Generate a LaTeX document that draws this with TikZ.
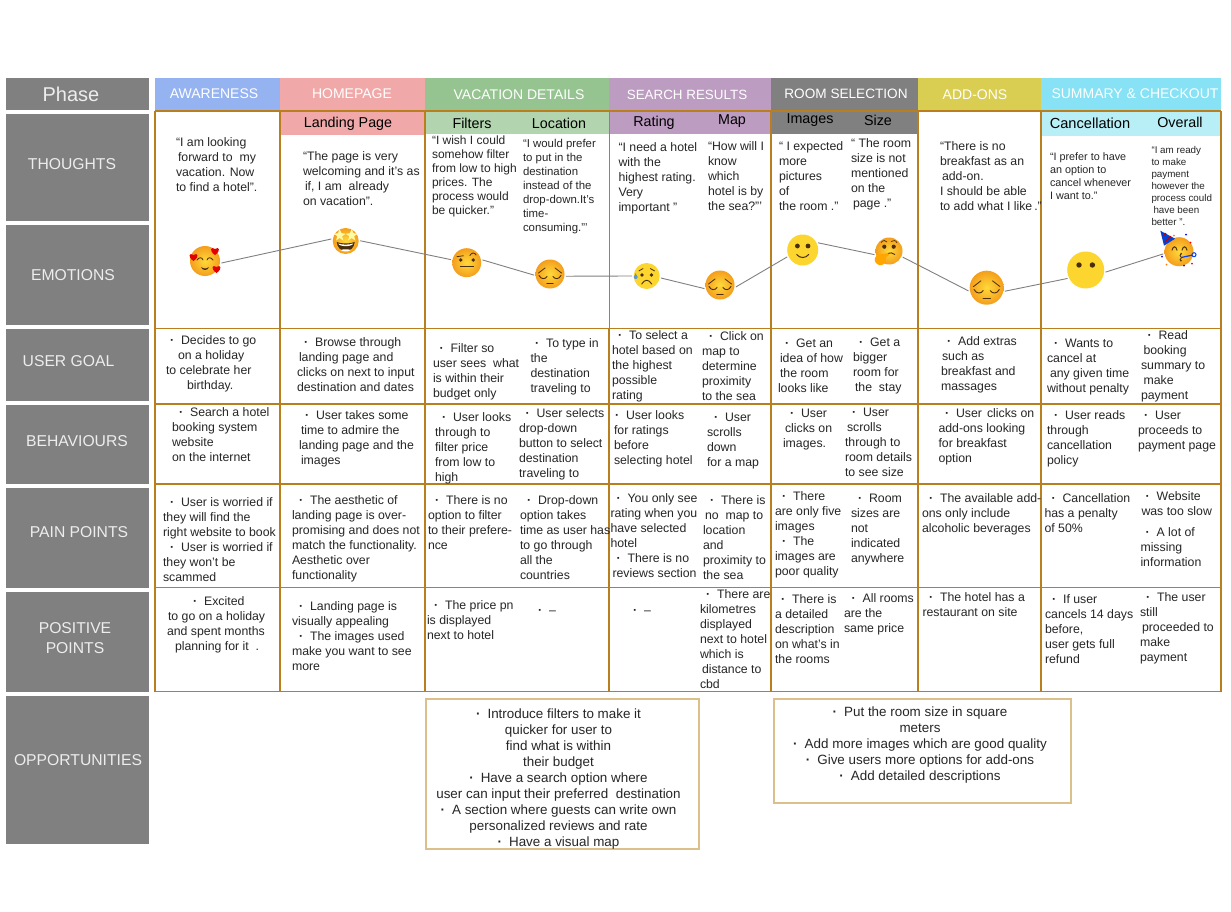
\documentclass[tikz,border=0pt]{standalone}
\usepackage{fontspec}
\setmainfont{Liberation Sans}
\definecolor{gold}{HTML}{B97F1F}
\definecolor{oppb}{HTML}{DCC08C}
\definecolor{lab}{HTML}{808080}
\definecolor{ink}{HTML}{262626}
\definecolor{hA}{HTML}{95B3F0}
\definecolor{hB}{HTML}{F0A8A8}
\definecolor{hC}{HTML}{96C490}
\definecolor{hCs}{HTML}{B2D4AE}
\definecolor{hD}{HTML}{BC9CC0}
\definecolor{hF}{HTML}{DACE52}
\definecolor{hG}{HTML}{86E2F4}
\definecolor{hGs}{HTML}{B8EEF6}
\definecolor{eY}{HTML}{FFD93A}
\definecolor{eO}{HTML}{F49E1C}
\definecolor{eF}{HTML}{FCD52E}
\definecolor{eB}{HTML}{4A2E0C}
\newcommand{\rt}{\rule{0pt}{10.5pt}}
\newcommand{\ii}[1]{\hspace*{#1pt}}
\newcommand{\bu}[1]{\hspace*{\dimexpr#1pt-2pt\relax}\textbf{·}\hspace{7pt}}
\newcommand{\ob}{\textbf{·}\hspace{7pt}}
\newcommand{\tx}[4]{\node[cell] (#1) at (#2,#3-6) {\rt #4};}
\newcommand{\hrt}[3]{\fill[red!90!black,shift={(#1,#2)},scale=#3] (0,1.6) .. controls (-2.6,-0.2) and (-1.6,-2) .. (0,-0.8) .. controls (1.6,-2) and (2.6,-0.2) .. (0,1.6) -- cycle;}
\newcommand{\pensive}{%
\draw[eB,line width=.9pt,line cap=round] (-11,1.5) .. controls (-9,5.5) and (-5,5.5) .. (-3,2.5);
\draw[eB,line width=.9pt,line cap=round] (11,1.5) .. controls (9,5.5) and (5,5.5) .. (3,2.5);
\draw[eB,line width=.8pt,line cap=round] (-11.5,-1) -- (-5,-6);
\draw[eB,line width=.8pt,line cap=round] (11.5,-1) -- (5,-6);
\draw[eB,line width=.9pt,line cap=round] (-3.2,9) -- (3.2,9);}
\tikzset{
 cell/.style={anchor=north west,inner sep=0pt,outer sep=0pt,align=left,text=ink,font=\fontsize{12.3}{15}\selectfont},
 hd/.style={text=white,inner sep=0pt,font=\fontsize{14}{16}\selectfont},
 sub/.style={text=black,inner sep=0pt,font=\fontsize{14.3}{16}\selectfont},
 side/.style={text=white!93!black,inner sep=0pt,align=center,font=\fontsize{15.7}{20}\selectfont},
 opp/.style={inner sep=0pt,align=center,text=ink,font=\fontsize{13.4}{16}\selectfont},
 gridA/.style={draw=gold,line width=1.7pt},
 gridB/.style={draw=gold,line width=1.1pt},
 conn/.style={draw=lab,line width=.9pt},
 emo/.style={circle,inner sep=0pt,outer sep=1.5pt,inner color=eY,outer color=eO,minimum size=#1},
 flat/.style={circle,inner sep=0pt,outer sep=1.5pt,fill=eF,minimum size=#1},
}
\begin{document}
\begin{tikzpicture}[x=1pt,y=-1pt]
\useasboundingbox (0,0) rectangle (1231,912);
\fill[white] (0,0) rectangle (1231,912);
% left labels
\foreach \a/\b in {78/110,114/221,225/325,329/401,405/484,488/588,592/692,696/844}
  \fill[lab] (6,\a) rectangle (149,\b);
\node[side,font=\fontsize{20}{24}\selectfont] (lphase) at (71,94) {Phase};
\node[side] (lth) at (72,164) {THOUGHTS};
\node[side] (lem) at (73,275) {EMOTIONS};
\node[side] (lug) at (68.5,361) {USER GOAL};
\node[side] (lbe) at (77,441) {BEHAVIOURS};
\node[side] (lpa) at (79,532) {PAIN POINTS};
\node[side] (lpo) at (75,638) {POSITIVE\\POINTS};
\node[side] (lop) at (78,760) {OPPORTUNITIES};
% header bands
\fill[hA] (155,78) rectangle (280,111);
\fill[hB] (280,78) rectangle (425,111);
\fill[hC] (425,78) rectangle (609,111);
\fill[hD] (609,78) rectangle (771,111);
\fill[lab] (771,78) rectangle (918,111);
\fill[hF] (918,78) rectangle (1041,111);
\fill[hG] (1041,78) rectangle (1221,111);
\fill[hB] (280,111) rectangle (425,135);
\fill[hCs] (425,111) rectangle (609,134);
\fill[hD] (609,111) rectangle (771,134);
\fill[lab] (771,111) rectangle (918,134);
\fill[hGs] (1041,111) rectangle (1221,136);
\node[hd] (h1) at (214,94) {AWARENESS};
\node[hd] (h2) at (352,94) {HOMEPAGE};
\node[hd] (h3) at (519,95) {VACATION DETAILS};
\node[hd,font=\fontsize{13.4}{16}\selectfont] (h4) at (687,95) {SEARCH RESULTS};
\node[hd,font=\fontsize{13.6}{16}\selectfont] (h5) at (846,94) {ROOM SELECTION};
\node[hd] (h6) at (975,95) {ADD-ONS};
\node[hd] (h7) at (1135,94) {SUMMARY \& CHECKOUT};
\node[sub] (s1) at (348,124) {Landing Page};
\node[sub] (s2) at (472,123) {Filters};
\node[sub] (s3) at (559,123) {Location};
\node[sub] (s4) at (654,123) {Rating};
\node[sub] (s5) at (732,121) {Map};
\node[sub] (s6) at (810,120) {Images};
\node[sub] (s7) at (878,120) {Size};
\node[sub,font=\fontsize{14.6}{16}\selectfont] (s8) at (1090,123) {Cancellation};
\node[sub] (s9) at (1180,122) {Overall};
% grid
\draw[gridB] (155,111) -- (1221,111);
\draw[gridB] (155,111) -- (155,691.5);
\draw[gridB] (1221,111) -- (1221,691.5);
\draw[gridB] (155,691.5) -- (1221,691.5);
\draw[gridA] (155,328.5) -- (1221,328.5);
\foreach \y in {404,484,587.5} \draw[gridB] (155,\y) -- (1221,\y);
\foreach \x in {280,425,771,918,1041} \draw[gridA] (\x,111) -- (\x,691.5);
\draw[draw=gold,line width=.8pt] (609,111) -- (609,328.5);
\draw[gridA] (609,328.5) -- (609,691.5);
% thoughts
\tx{ta}{176}{142}{“I am looking\\\ii{2}forward to\ \ my\\vacation. Now\\to find a hotel”.}
\tx{tb}{303}{156}{“The page is very\\welcoming and it’s as\\\ii{2}if, I am\ \ already\\on vacation”.}
\node[cell,font=\fontsize{12}{14}\selectfont] (tc) at (432,134) {\rt “I wish I could\\somehow filter\\from low to high\\prices. The\\process would\\be quicker.”};
\node[cell,font=\fontsize{11.4}{14}\selectfont] (td) at (523,137) {\rt “I would prefer\\to put in the\\destination\\instead of the\\drop-down.It’s\\time-\\consuming.”’};
\tx{te}{618.5}{147}{“I need a hotel\\with the\\highest rating.\\Very\\important ”}
\tx{tf}{708}{146}{“How will I\\know\\which\\hotel is by\\the sea?”’}
\tx{tg}{779}{146}{“ I expected\\more\\pictures\\of\\the room .”}
\tx{th}{851}{143}{“ The room\\size is not\\mentioned\\on the\\\ii{2}page .”}
\tx{ti}{940}{146}{“There is no\\breakfast as an\\\ii{2}add-on.\\I should be able\\to add what I like\hspace{2pt}.”}
\node[cell,font=\fontsize{10.8}{13}\selectfont] (tj) at (1050,150) {\rt “I prefer to have\\an option to\\cancel whenever\\I want to.”};
\node[cell,font=\fontsize{9.8}{12}\selectfont] (tk) at (1151.5,143) {\rt “I am ready\\to make\\payment\\however the\\process could\\\ii{2}have been\\better ”.};
% user goal
\tx{ua}{166}{340}{\bu{6}Decides to go\\\ii{12}on a holiday\\to celebrate her\\\ii{21}birthday.}
\tx{ub}{297}{342}{\bu{9}Browse through\\\ii{2}landing page and\\clicks on next to input\\destination and dates}
\tx{uc}{433}{348}{\bu{8.5}Filter so\\user sees\ \ what\\is within their\\budget only}
\tx{ud}{530.5}{343}{\bu{6.5}To type in\\the\\destination\\traveling to}
\tx{ue}{612}{335}{\bu{8}To select a\\hotel based on\\the highest\\possible\\rating}
\tx{uf}{702}{336}{\bu{9}Click on\\map to\\determine\\proximity\\to the sea}
\tx{ug}{778}{343}{\bu{9}Get an\\\ii{2}idea of how\\\ii{2}the room\\looks like}
\tx{uh}{853}{342}{\bu{8}Get a\\bigger\\room for\\\ii{2}the\ \ stay}
\tx{ui}{941}{341}{\bu{8}Add extras\\\ii{1}such as\\breakfast and\\massages}
\tx{uj}{1047}{343}{\bu{9}Wants to\\cancel at\\\ii{3}any given time\\without penalty}
\tx{uk}{1141}{335}{\bu{8.5}Read\\\ii{2.5}booking\\summary to\\\ii{2.5}make\\payment}
% behaviours
\tx{ba}{172}{412}{\bu{9}Search a hotel\\booking system\\website\\on the internet}
\tx{bb}{299}{415}{\bu{8}User takes some\\\ii{2}time to admire the\\landing page and the\\\ii{2}images}
\tx{bc}{435}{417}{\bu{9}User looks\\through to\\filter price\\from low to\\high}
\tx{bd}{519}{413}{\bu{8.5}User selects\\drop-down\\button to select\\destination\\traveling to}
\tx{be}{614}{415}{\bu{3}User looks\\for ratings\\before\\selecting hotel}
\tx{bf}{707}{417}{\bu{9}User\\scrolls\\down\\for a map}
\tx{bg}{783}{413}{\bu{9}User\\\ii{2}clicks on\\images.}
\tx{bh}{845}{412}{\bu{9}User\\\ii{2}scrolls\\through to\\room details\\to see size}
\tx{bi}{938.5}{413}{\bu{8.5}User\hspace{5pt}clicks on\\add-ons looking\\for breakfast\\option}
\tx{bj}{1047}{415}{\bu{9}User reads\\through\\cancellation\\policy}
\tx{bk}{1138}{415}{\bu{8}User\\proceeds to\\payment page}
% pain
\tx{pa}{163}{502}{\bu{9}User is worried if\\they will find the\\right website to book\\\bu{9}User is worried if\\they won’t be\\scammed}
\tx{pb}{292}{500}{\bu{9}The aesthetic of\\landing page is over-\\promising and does not\\match the functionality.\\Aesthetic over\\functionality}
\tx{pc}{428}{500}{\bu{9}There is no\\option to filter\\to their prefere-\\nce}
\tx{pd}{520}{500}{\bu{9}Drop-down\\option takes\\time as user has\\to go through\\all the\\countries}
\tx{pe}{610.5}{498}{\bu{8}You only see\\rating when you\\have selected\\hotel\\\bu{8}There is no\\\ii{2}reviews section}
\tx{pf}{703}{500}{\bu{9}There is\\\ii{2}no\ \ map to\\location\\and\\proximity to\\the sea}
\tx{pg}{775}{496}{\bu{9}There\\are only five\\images\\\bu{9}The\\images are\\poor quality}
\tx{ph}{851}{498}{\bu{9}Room\\sizes are\\not\\indicated\\anywhere}
\tx{pi}{922}{498}{\bu{9}The available add-\\ons only include\\alcoholic beverages}
\tx{pj}{1044.5}{498}{\bu{9}Cancellation\\has a penalty\\of 50\%}
\node[cell] (pk) at (1140.5,490) {\rt\bu{7}Website\\\ii{1}was too slow\\[6pt]\bu{7}A lot of\\missing\\information};
% positive
\tx{qa}{167}{601}{\bu{28}Excited\\\ii{1}to go on a holiday\\and spent months\\\ii{8}planning for it\ \ .}
\tx{qb}{292}{606}{\bu{9}Landing page is\\visually appealing\\\bu{9}The images used\\make you want to see\\more}
\tx{qc}{427}{605}{\bu{9}The price pn\\is displayed\\next to hotel}
\tx{qd}{538}{610}{\bu{2}–}
\tx{qe}{634}{610}{\bu{1}–}
\tx{qf}{700}{594}{\bu{8}There are\\kilometres\\displayed\\next to hotel\\which is\\\ii{2}distance to\\cbd}
\tx{qg}{775}{599}{\bu{8}There is\\a detailed\\description\\on what’s in\\the rooms}
\tx{qh}{844}{598}{\bu{9.5}All rooms\\are the\\same price}
\tx{qi}{922.5}{597}{\bu{8.5}The hotel has a\\restaurant on site}
\tx{qj}{1045}{599}{\bu{9}If user\\cancels 14 days\\before,\\user gets full\\refund}
\tx{qk}{1140}{597}{\bu{8}The user\\still\\\ii{2}proceeded to\\make\\payment}
% opportunities
\draw[oppb,line width=2pt] (426,699) rectangle (699,849);
\draw[oppb,line width=2pt] (774,699) rectangle (1071,803);
\node[opp,anchor=north] (oa) at (558.5,708) {\rt \ob Introduce filters to make it\\quicker for user to\\find what is within\\their budget\\\ob Have a search option where\\user can input their preferred\ \ destination\\\ob A section where guests can write own\\personalized reviews and rate\\\ob Have a visual map};
\node[opp,anchor=north] (ob) at (920,706) {\rt \ob Put the room size in square\\meters\\\ob Add more images which are good quality\\\ob Give users more options for add-ons\\\ob Add detailed descriptions};
% emotions
\node[emo=30pt] (e1) at (205,261) {};
\node[emo=26pt] (e2) at (345.7,241) {};
\node[emo=29pt] (e3) at (466.7,262.7) {};
\node[emo=29pt] (e4) at (550,274) {};
\node[flat=26pt] (e5) at (646.7,276) {};
\node[emo=29pt] (e6) at (720,285) {};
\node[flat=31pt] (e7) at (802.7,250) {};
\node[emo=27pt] (e8) at (889,251) {};
\node[emo=34pt] (e9) at (986.7,287.7) {};
\node[flat=37pt] (e10) at (1085.7,270) {};
\node[emo=29pt] (e11) at (1179,251.7) {};
\draw[conn] (e1.353) -- (e2.172);
\draw[conn] (e2.1) -- (e3.169);
\draw[conn] (e3.10) -- (e4.184);
\draw[conn] (e4.352) -- (e5.180);
\draw[conn] (e5.352) -- (e6.193);
\draw[conn] (e6.353) -- (e7.204);
\draw[conn] (e7.25) -- (e8.194);
\draw[conn] (e8.336) -- (e9.190);
\draw[conn] (e9.349) -- (e10.205);
\draw[conn] (e10.354) -- (e11.188);
% e1 hearts
\begin{scope}[shift={(e1.center)}]
\draw[eB,line width=.8pt,line cap=round] (-8,-1) .. controls (-6,-4) and (-3,-4) .. (-2,-1);
\draw[eB,line width=.8pt,line cap=round] (8,-1) .. controls (6,-4) and (3,-4) .. (2,-1);
\fill[eB] (-4,6) .. controls (-1,8) and (1,8) .. (4,6) .. controls (3,10) and (-3,10) .. (-4,6) -- cycle;
\hrt{-11.5}{-4}{2.5}\hrt{10}{-10}{2.5}\hrt{11.5}{8}{2.5}
\end{scope}
% e2 star struck
\begin{scope}[shift={(e2.center)}]
\foreach \s in {-6,6}{\fill[yellow!35!white,shift={(\s,-6)},scale=1.2] (0,-5) -- (1.5,-1.5) -- (5,-1) -- (2,1) -- (3,4.5) -- (0,2.5) -- (-3,4.5) -- (-2,1) -- (-5,-1) -- (-1.5,-1.5) -- cycle;}
\fill[eB] (-9,1) .. controls (-5,3) and (5,3) .. (9,1) .. controls (8,13) and (-8,13) .. (-9,1) -- cycle;
\fill[white] (-7.5,2.5) .. controls (-4,4) and (4,4) .. (7.5,2.5) .. controls (6.5,6) and (-6.5,6) .. (-7.5,2.5) -- cycle;
\fill[white] (-5,9) .. controls (-2,8) and (2,8) .. (5,9) .. controls (3,11) and (-3,11) .. (-5,9) -- cycle;
\end{scope}
% e3 raised eyebrow
\begin{scope}[shift={(e3.center)}]
\fill[eB] (-6,-2.7) circle (1.9);\fill[eB] (6.5,-2.7) circle (1.9);
\draw[eB,line width=.8pt] (-10,-6) -- (-3,-7);
\draw[eB,line width=.8pt] (3,-7) .. controls (5,-10.5) and (8,-10.5) .. (9.5,-7.5);
\draw[eB,line width=1pt] (-7,4) -- (7,4);
\end{scope}
% pensive faces
\begin{scope}[shift={(e4.center)}]\pensive\end{scope}
\begin{scope}[shift={(e6.center)}]\pensive\end{scope}
\begin{scope}[shift={(e9.center)},scale=1.15]\pensive\end{scope}
% e5 sad with tear
\begin{scope}[shift={(e5.center)}]
\fill[eB] (-4.7,-1) circle (1.9);\fill[eB] (4.7,-1) circle (1.9);
\draw[eB,line width=.8pt] (-8,-5) -- (-3.5,-7.5);
\draw[eB,line width=.8pt] (8,-5) -- (3.5,-7.5);
\draw[eB,line width=.9pt,line cap=round] (-5,8) .. controls (-2,3) and (2,3) .. (5,8);
\fill[cyan!60!blue!70!white] (-11,-3) .. controls (-14,3) and (-8,3) .. (-11,-3) -- cycle;
\fill[cyan!60!blue!70!white] (-11,1) circle (2);
\end{scope}
% e7 smile
\begin{scope}[shift={(e7.center)}]
\fill[eB] (-5.3,-4) circle (2.4);\fill[eB] (5.3,-4) circle (2.4);
\draw[eB,line width=1pt,line cap=round] (-6,4.5) .. controls (-3,8.5) and (3,8.5) .. (6,4.5);
\end{scope}
% e8 thinking
\begin{scope}[shift={(e8.center)}]
\fill[eB] (-4.7,-4.3) circle (2.1);\fill[eB] (4.7,-4.3) circle (2.1);
\draw[eB,line width=.7pt] (-8,-8.5) .. controls (-6,-11) and (-3,-11) .. (-2,-9);
\draw[eB,line width=.7pt] (2,-9.5) .. controls (4,-11) and (7,-11) .. (8,-8);
\draw[eB,line width=.9pt] (-2,3) .. controls (1,1.5) and (4,1.5) .. (6,3.5);
\fill[orange!70!yellow] (-14,7) .. controls (-12,3) and (-9,2) .. (-6,3) -- (-1,2) -- (0,4) -- (-3,6) .. controls (-2,12) and (-6,15) .. (-10,14) .. controls (-13,13) and (-15,10) .. (-14,7) -- cycle;
\end{scope}
% e10 no mouth
\begin{scope}[shift={(e10.center)}]
\fill[eB] (-6.7,-5) circle (2.7);\fill[eB] (6.7,-5) circle (2.7);
\end{scope}
% e11 party
\begin{scope}[shift={(e11.center)}]
\draw[eB,line width=1pt,line cap=round] (-7,-1.5) .. controls (-6,-6) and (-3,-6) .. (-2,-1.5);
\draw[eB,line width=1pt,line cap=round] (8,-1.5) .. controls (7,-6) and (4,-6) .. (3,-1.5);
\fill[blue!70!cyan!85!black] (-18.7,-21) -- (-4,-13) -- (-15,-6) -- cycle;
\draw[red!75!black,line width=1pt] (-14.5,-9.5) -- (-8,-15.5);
\draw[red!75!black,line width=1pt] (-16.5,-15.5) -- (-13,-18.5);
\fill[eB] (2,1) .. controls (0,3) and (0,5) .. (2,6) .. controls (0,7) and (0,9) .. (2,10) -- (3,9) -- (1.5,8) -- (3,6) -- (1.5,4) -- (3,2) -- cycle;
\draw[blue!75!cyan,line width=1.2pt] (2.5,5.7) -- (13,3.5);
\draw[blue!75!cyan,line width=1pt] (15,3) circle (2);
\foreach \p/\c in {{-17,5}/blue,{-12.5,13}/orange,{5,14}/blue,{13,12}/red,{7,-17}/blue,{11.5,-9}/red,{-5,-16}/orange}
  \fill[\c] (\p) circle (1);
\end{scope}
\end{tikzpicture}
\end{document}
